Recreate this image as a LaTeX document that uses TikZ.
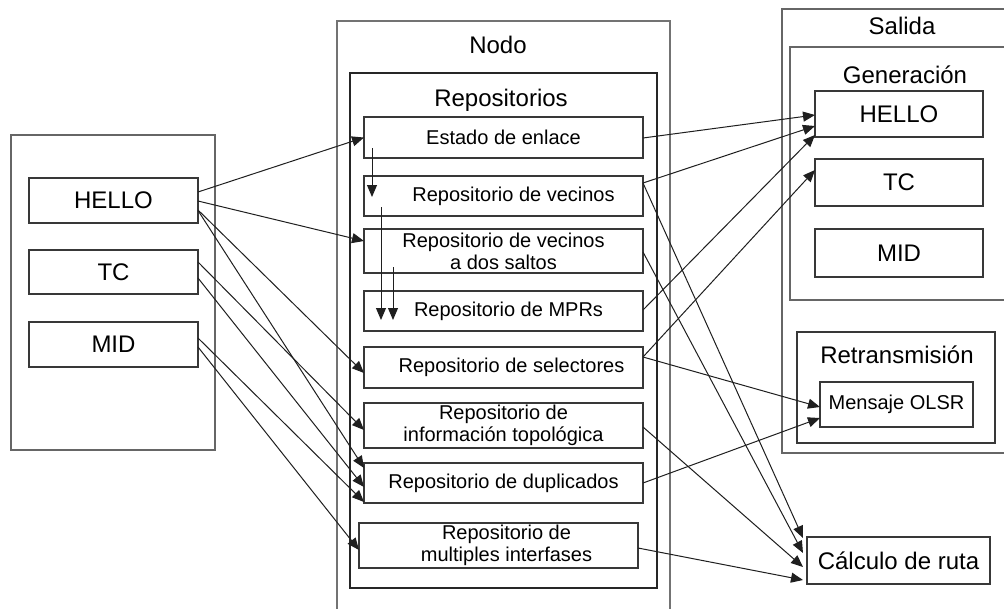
\documentclass[tikz,border=0pt]{standalone}
\usepackage{fontspec}
\setmainfont{Liberation Sans}
\usetikzlibrary{arrows.meta,calc}

\begin{document}
\begin{tikzpicture}[x=1pt,y=-1pt,
  box/.style={draw=black!78,line width=1.1pt,inner sep=0pt,outer sep=0pt,align=center,text=black},
  frame/.style={draw=black!60,line width=1.1pt,inner sep=0pt,outer sep=0pt},
  big/.style={font=\fontsize{24}{27}\selectfont},
  small/.style={font=\fontsize{20}{22}\selectfont},
  repo/.style={box,small,minimum width=279pt},
  outmsg/.style={box,big,minimum width=168pt},
  inmsg/.style={box,big,minimum width=169pt},
  title/.style={inner sep=0pt,font=\fontsize{24}{27}\selectfont,text=black},
  link/.style={draw=black!88,line width=1pt,-{Triangle[length=12pt,width=10pt]}}
]
\useasboundingbox (0,0) rectangle (1004,608);
\clip (0,0) rectangle (1004,608);
\fill[white] (0,0) rectangle (1004,608);

% incoming message types
\node[frame,minimum width=204pt,minimum height=315pt] (entrada) at (113,292.5) {};
\node[inmsg,minimum height=45pt] (lhello) at (113.5,200.5) {HELLO};
\node[inmsg,minimum height=44pt] (ltc) at (113.5,272) {TC};
\node[inmsg,minimum height=45pt] (lmid) at (113.5,344.5) {MID};

% the node and its repositories
\node[frame,draw=black!55,minimum width=333pt,minimum height=619pt] (nodo) at (503.5,330.5) {};
\node[title] (tnodo) at (498,45) {Nodo};
\node[frame,draw=black!85,minimum width=307pt,minimum height=515pt] (repos) at (503.5,330.5) {};
\node[title] (trepos) at (501,100) {Repositorios};

\node[repo,minimum height=41pt] (estado) at (503.5,137.5) {Estado de enlace};
\node[repo,minimum height=40pt] (vec) at (503.5,196) {\hspace*{20pt}Repositorio de vecinos};
\node[repo,minimum height=44pt] (dos) at (503.5,251) {\raisebox{-3pt}{\parbox{260pt}{\centering Repositorio de vecinos\\a dos saltos}}};
\node[repo,minimum height=40pt] (mpr) at (503.5,311) {\hspace*{10pt}Repositorio de MPRs};
\node[repo,minimum height=41pt] (sel) at (503.5,367.5) {\hspace*{16pt}Repositorio de selectores};
\node[repo,minimum height=45pt] (topo) at (503.5,425.5) {Repositorio de\\informaci\'on topol\'ogica};
\node[repo,minimum height=40pt] (dup) at (503.5,483) {Repositorio de duplicados};
\node[repo,minimum height=45pt] (mult) at (498.5,545.5) {\hspace*{16pt}Repositorio de\\\hspace*{16pt}multiples interfases};

% output side
\node[frame,minimum width=228pt,minimum height=444pt] (salida) at (896,231) {};
\node[title] (tsalida) at (902,26) {Salida};
\node[frame,minimum width=220pt,minimum height=253pt] (gen) at (900,173.5) {};
\node[title] (tgen) at (905,75) {Generaci\'on};
\node[outmsg,minimum height=46pt] (ohello) at (899,114) {HELLO};
\node[outmsg,minimum height=47pt] (otc) at (899,182.5) {TC};
\node[outmsg,minimum height=48pt] (omid) at (899,253) {MID};

\node[frame,draw=black!78,minimum width=198pt,minimum height=111pt] (retr) at (896,387.5) {};
\node[title] (tretr) at (897,355) {Retransmisi\'on};
\node[box,small,minimum width=153pt,minimum height=45pt] (olsr) at (896.5,404.5) {Mensaje OLSR};

\node[box,big,minimum width=183pt,minimum height=47pt] (calc) at (898.5,560.5) {C\'alculo de ruta};

% messages feeding the repositories
\draw[link] ($(lhello.east)+(0,-8.5)$) -- (estado.west);
\draw[link] ($(lhello.east)+(0,0.5)$) -- ($(dos.west)+(0,-10)$);
\draw[link] ($(lhello.east)+(0,9.5)$) -- ($(sel.west)+(0,5.5)$);
\draw[link] ($(lhello.east)+(0,10)$) -- ($(dup.west)+(0,-15)$);
\draw[link] ($(ltc.east)+(0,-10)$) -- ($(topo.west)+(0,4.5)$);
\draw[link] ($(ltc.east)+(0,6)$) -- ($(dup.west)+(0,4)$);
\draw[link] ($(lmid.east)+(0,-6.5)$) -- ($(dup.west)+(0,19)$);
\draw[link] ($(lmid.east)+(0,2.5)$) -- ($(mult.west)+(0,4.5)$);

% updates between repositories
\draw[link] ($(estado.south west)+(8,-10)$) -- ($(vec.north west)+(8,21)$);
\draw[link] ($(vec.south west)+(17,-9)$) -- ($(mpr.north west)+(17,29)$);
\draw[link] ($(dos.south west)+(29,-6)$) -- ($(mpr.north west)+(29,29)$);

% repositories feeding generation, retransmission and routing
\draw[link] ($(estado.east)+(0,0.5)$) -- ($(ohello.west)+(0,1)$);
\draw[link] ($(vec.east)+(0,-13)$) -- ($(ohello.west)+(0,12)$);
\draw[link] ($(mpr.east)+(0,-1)$) -- ($(ohello.west)+(0,21)$);
\draw[link] ($(sel.east)+(0,-10.5)$) -- ($(otc.west)+(0,-12.5)$);
\draw[link] ($(sel.east)+(0,-10.5)$) -- ($(olsr.west)+(0,2.5)$);
\draw[link] (dup.east) -- ($(olsr.west)+(0,13.5)$);
\draw[link] ($(vec.east)+(0,-13)$) -- ($(calc.west)+(-4,-22.5)$);
\draw[link] ($(dos.east)+(0,1)$) -- ($(calc.west)+(-4,-7.5)$);
\draw[link] ($(topo.east)+(0,1.5)$) -- ($(calc.west)+(-4,6.5)$);
\draw[link] ($(mult.east)+(0,2.5)$) -- ($(calc.west)+(-4,19.5)$);
\end{tikzpicture}
\end{document}
